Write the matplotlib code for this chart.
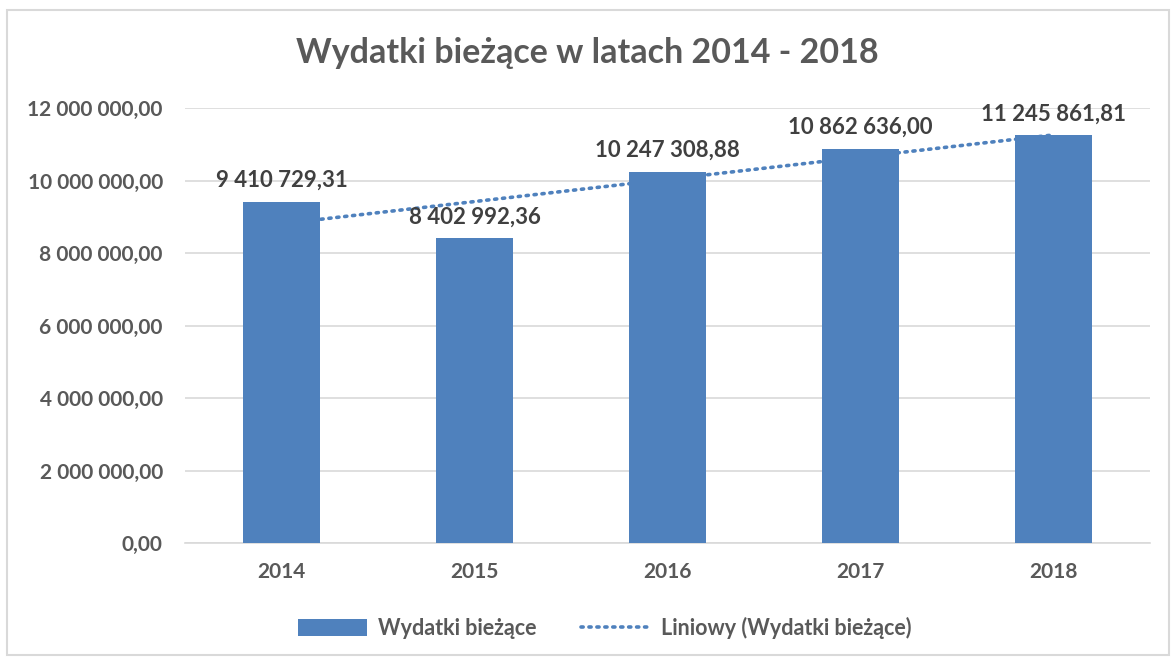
import numpy as np
import matplotlib
matplotlib.use("Agg")
import matplotlib.pyplot as plt
import matplotlib.ticker as mticker
from matplotlib.patches import Rectangle

# ── Data ───────────────────────────────────────────────────────────────────────
years  = ["2014", "2015", "2016", "2017", "2018"]
values = [9410729.31, 8402992.36, 10247308.88, 10862636.00, 11245861.81]

BAR   = "#4F81BD"
TEXT  = "#595959"
GRID  = "#D9D9D9"

plt.rcParams["font.family"] = ["Lato", "DejaVu Sans"]
plt.rcParams["font.weight"] = "bold"


def pl_fmt(v, decimals=2):
    s = f"{v:,.{decimals}f}"
    return s.replace(",", " ").replace(".", ",")


fig = plt.figure(figsize=(11.74, 6.59), dpi=100)
ax = fig.add_axes([0.1576, 0.176, 0.822, 0.66])

x = np.arange(len(years))

# linear trendline (least squares), drawn behind the bars
coef = np.polyfit(x, values, 1)
ax.plot(x, np.polyval(coef, x), linestyle=(0, (0.6, 1.6)), color=BAR,
        linewidth=2.6, dash_capstyle="round", zorder=2,
        label="Liniowy (Wydatki bieżące)")

bars = ax.bar(x, values, width=0.4, color=BAR, zorder=3, label="Wydatki bieżące")

for b, v in zip(bars, values):
    ax.annotate(pl_fmt(v), (b.get_x() + b.get_width() / 2, v),
                xytext=(0, 8), textcoords="offset points",
                ha="center", va="bottom", fontsize=16, fontweight="bold",
                color="#404040")

ax.set_xlim(-0.5, len(years) - 0.5)
ax.set_ylim(0, 12000000)
ax.set_yticks(np.arange(0, 12000001, 2000000))
ax.yaxis.set_major_formatter(mticker.FuncFormatter(lambda v, _: pl_fmt(v)))
ax.set_xticks(x)
ax.set_xticklabels(years)

ax.tick_params(axis="y", length=0, pad=16, labelsize=15, labelcolor=TEXT)
ax.tick_params(axis="x", length=0, pad=14, labelsize=15, labelcolor=TEXT)
for lab in ax.get_xticklabels() + ax.get_yticklabels():
    lab.set_fontweight("bold")

ax.grid(axis="y", color=GRID, linewidth=1.2, zorder=0)
ax.set_axisbelow(True)
for side in ("left", "right", "top"):
    ax.spines[side].set_visible(False)
ax.spines["bottom"].set_color(GRID)
ax.spines["bottom"].set_linewidth(1.2)

fig.text(0.5, 0.92, "Wydatki bieżące w latach 2014 - 2018", ha="center",
         va="center", fontsize=24.5, fontweight="bold", color=TEXT)

handles, labels = ax.get_legend_handles_labels()
leg = fig.legend(handles[::-1], labels[::-1], loc="center", bbox_to_anchor=(0.515, 0.047),
                 ncol=2, frameon=False, fontsize=15.5, handlelength=3.2,
                 handleheight=0.8, columnspacing=2.1, handletextpad=0.5)
for t in leg.get_texts():
    t.set_color(TEXT)
    t.set_fontweight("bold")

# outer chart frame
fig.add_artist(Rectangle((7 / 1174, 4 / 659), 1162 / 1174, 645 / 659,
                         transform=fig.transFigure, fill=False,
                         edgecolor=GRID, linewidth=1.5))

fig.savefig("out.png", dpi=100)
